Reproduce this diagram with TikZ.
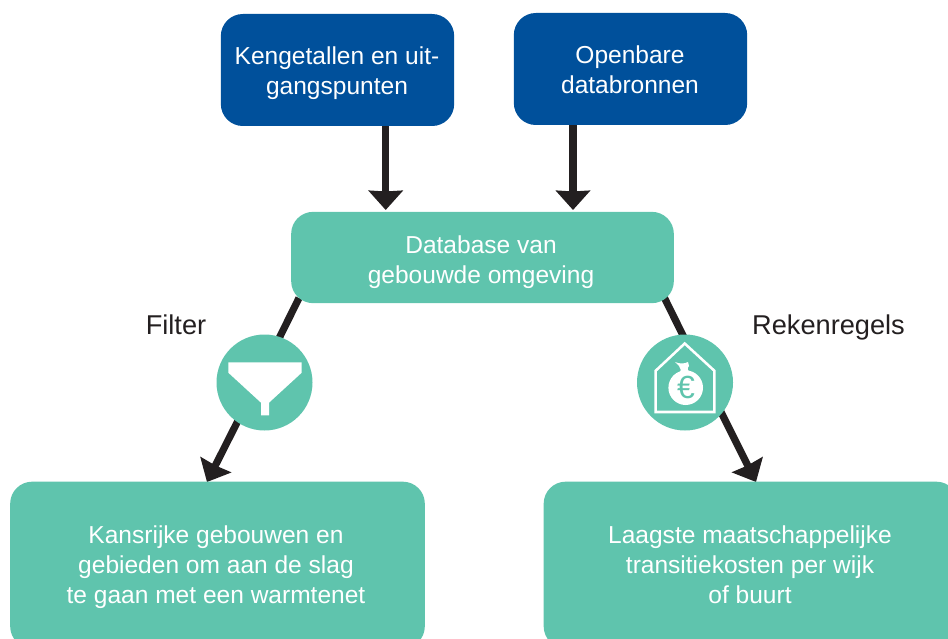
\documentclass[tikz,border=0pt]{standalone}
\usepackage{fontspec}
\setmainfont{Liberation Sans}
\usetikzlibrary{arrows.meta}
\definecolor{navy}{HTML}{00509B}
\definecolor{mint}{HTML}{5FC4AD}
\definecolor{ink}{HTML}{231F20}
\tikzset{
  px/.style={x=0.75pt,y=-0.75pt},
  box/.style={fill=#1,rounded corners=16.5pt,inner sep=0pt,text=white,align=center,font=\fontsize{18.4}{22.5}\selectfont},
  round/.style={circle,fill=mint,minimum size=72pt,inner sep=0pt},
  link/.style={draw=ink,line width=5.4pt},
  flow/.style={link,-{Stealth[length=14.5pt,width=25.5pt,inset=0.6pt]}},
  lab/.style={text=ink,font=\fontsize{20.4}{24}\selectfont,inner sep=0pt},
  glyph/.style={draw=white,line width=1.9pt,line join=miter},
  txt/.style={text=white,align=center,inner sep=0pt,font=\fontsize{18.4}{22.5}\selectfont}
}
\begin{document}
\begin{tikzpicture}[px]
\useasboundingbox (0,0) rectangle (948,638);
\clip (0,0) rectangle (948,638);
% connector end points
\coordinate (ka) at (385.7,126);
\coordinate (kb) at (385.7,210);
\coordinate (oa) at (573,125);
\coordinate (ob) at (573,210);
\coordinate (da) at (299,298);
\coordinate (fb) at (257,383);
\coordinate (fc) at (207,482);
\coordinate (db) at (664,297);
\coordinate (rb) at (706,382);
\coordinate (rc) at (756,482);
% arrows under the shapes
\draw[flow] (ka) -- (kb);
\draw[flow] (oa) -- (ob);
\draw[link] (da) -- (fb);
\draw[link] (db) -- (rb);
\draw[flow] (fb) -- (fc);
\draw[flow] (rb) -- (rc);
% boxes
\node[box=navy,minimum width=175pt,minimum height=84pt] (k) at (337.5,70) {};
\node[box=navy,minimum width=175pt,minimum height=84pt] (o) at (630.5,69) {};
\node[box=mint,minimum width=287pt,minimum height=68.5pt] (d) at (482.5,257.5) {};
\node[box=mint,minimum width=311pt,minimum height=125pt] (l) at (217.5,565) {};
\node[box=mint,minimum width=311pt,minimum height=125pt] (r) at (751,565) {};
\node[txt] (kt) at (337,73) {Kengetallen en uit-\\gangspunten};
\node[txt] (ot) at (630,70) {Openbare\\databronnen};
\node[txt] (dt) at (481,262) {Database van\\gebouwde omgeving};
\node[txt] (lt) at (216,567) {Kansrijke gebouwen en\\gebieden om aan de slag\\te gaan met een warmtenet};
\node[txt] (rt) at (750,565) {Laagste maatschappelijke\\transitiekosten per wijk\\of buurt};
% labels
\node[lab] (fl) at (176,325) {Filter};
\node[lab] (rl) at (828.5,327) {Rekenregels};
% icon discs
\node[round] (fi) at (264.5,382.5) {};
\node[round] (ri) at (685,382.5) {};
% funnel
\fill[white] (228.3,362.3) -- (301.7,362.3) -- (301.7,372.7) -- (269,402.7) -- (269,415.3) -- (261,415.3) -- (261,402.7) -- (228.3,372.7) -- cycle;
% house
\draw[glyph] (655.7,370.7) -- (684.7,343.5) -- (714.3,370.7) -- (714.3,412) -- (655.7,412) -- cycle;
% money bag
\fill[white] (685.7,387.7) circle[radius=17.3];
\fill[white] (675,362) .. controls (680,364) and (684,364) .. (688,362) -- (689,366) .. controls (687,368) and (687,371) .. (692,374) -- (678,374) .. controls (682,371) and (681,368) .. (679,366) -- cycle;
\node[text=mint,inner sep=0pt,font=\fontsize{24}{24}\selectfont] (eu) at (686,387.5) {€};
\end{tikzpicture}
\end{document}
